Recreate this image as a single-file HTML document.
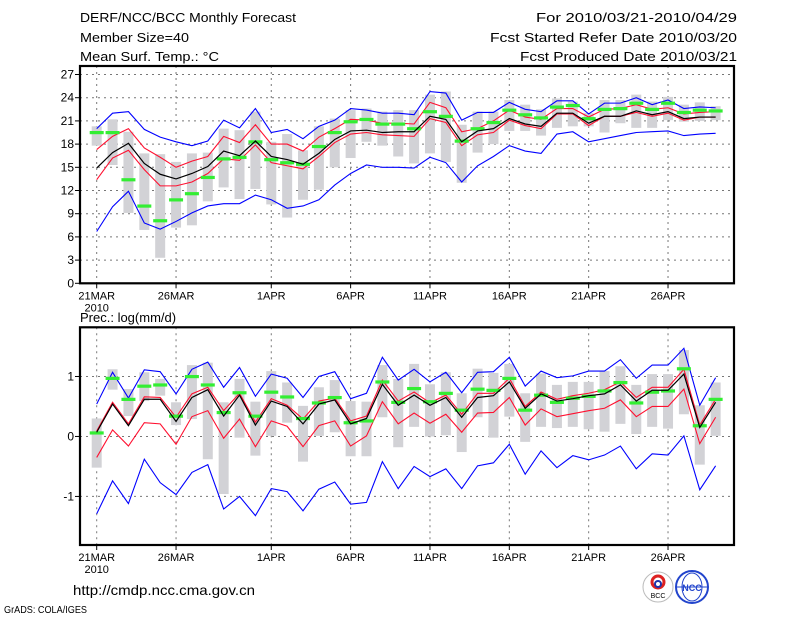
<!DOCTYPE html>
<html><head><meta charset="utf-8"><style>
body{margin:0;background:#fff;}
svg{display:block;font-family:"Liberation Sans",sans-serif;}
</style></head><body>
<svg id="c" width="800" height="618" viewBox="0 0 800 618" xmlns="http://www.w3.org/2000/svg">
<rect width="800" height="618" fill="#fff"/>
<g font-size="13" fill="#000">
<text x="80" y="22" textLength="216" lengthAdjust="spacingAndGlyphs">DERF/NCC/BCC Monthly Forecast</text>
<text x="80" y="42" textLength="109" lengthAdjust="spacingAndGlyphs">Member Size=40</text>
<text x="80" y="61" textLength="139" lengthAdjust="spacingAndGlyphs">Mean Surf. Temp.: °C</text>
<text x="536" y="22" textLength="201" lengthAdjust="spacingAndGlyphs">For 2010/03/21-2010/04/29</text>
<text x="490" y="42" textLength="247" lengthAdjust="spacingAndGlyphs">Fcst Started Refer Date 2010/03/20</text>
<text x="520" y="61" textLength="217" lengthAdjust="spacingAndGlyphs">Fcst Produced Date 2010/03/21</text>
<text x="80" y="322">Prec.: log(mm/d)</text>
<text x="73" y="595" font-size="14" textLength="182" lengthAdjust="spacingAndGlyphs">http://cmdp.ncc.cma.gov.cn</text>
<text x="4" y="613" font-size="10" textLength="83" lengthAdjust="spacingAndGlyphs">GrADS: COLA/IGES</text>
</g>
<g>
<circle cx="658" cy="587" r="15" fill="#fff" stroke="#bbb"/>
<circle cx="658" cy="582" r="6" fill="none" stroke="#d22" stroke-width="3"/>
<circle cx="658" cy="584" r="3" fill="none" stroke="#23a" stroke-width="2"/>
<text x="658" y="598" font-size="7" text-anchor="middle" fill="#000">BCC</text>
</g>
<g>
<circle cx="692" cy="587" r="16" fill="#fff" stroke="#24c" stroke-width="2"/>
<ellipse cx="692" cy="587" rx="10" ry="14" fill="none" stroke="#24c"/>
<line x1="677" y1="587" x2="707" y2="587" stroke="#24c"/>
<text x="692" y="591" font-size="9" text-anchor="middle" fill="#24c" font-weight="bold">NCC</text>
</g>
<g id="plots"></g>
</svg>
<script>
// Temperature panel data (40 days)
const tBlueHi=[20.0,22.0,22.2,19.9,18.9,18.3,17.8,18.4,21.1,20.1,22.6,19.5,19.9,18.7,20.3,21.1,22.6,22.4,22.0,22.0,21.8,24.8,24.6,21.1,22.1,22.1,23.4,22.5,22.2,23.6,23.6,21.9,23.3,23.3,24.0,23.1,23.7,22.6,22.8,22.7];
const tRedHi=[17.3,19.0,20.0,17.5,16.3,15.0,15.8,16.4,19.0,18.2,20.5,18.0,18.0,17.1,18.9,20.0,21.2,21.1,20.7,20.7,20.6,23.4,22.7,19.6,20.0,21.0,22.4,21.5,21.2,22.6,22.6,21.5,22.5,22.6,23.1,22.5,22.7,21.9,22.1,22.2];
const tMean=[14.9,16.9,18.1,15.5,14.1,13.5,14.2,15.1,17.1,16.5,18.4,16.4,16.0,15.4,16.8,18.6,19.7,19.8,19.5,19.6,19.6,21.6,21.2,18.3,19.7,20.0,21.3,20.6,20.3,22.0,22.0,20.7,21.6,21.6,22.3,21.8,22.2,21.3,21.5,21.5];
const tRedLo=[13.4,16.2,17.2,14.7,12.6,12.6,13.1,14.2,16.1,15.9,17.9,15.6,15.2,14.8,16.4,18.2,19.3,19.5,19.2,19.1,19.0,21.3,20.8,17.8,19.2,19.5,21.1,20.4,20.0,21.9,21.9,20.4,21.6,21.6,22.1,21.6,22.0,21.1,21.5,21.5];
const tBlueLo=[6.7,9.9,11.9,7.8,7.0,8.0,9.1,10.0,10.3,10.3,11.4,10.8,9.7,10.0,10.8,12.7,14.2,15.3,15.0,15.0,14.9,16.3,15.6,13.1,15.2,16.4,17.8,17.1,16.8,19.3,19.6,18.3,18.7,19.1,19.5,19.6,19.7,19.1,19.3,19.4];
const tObs=[19.5,19.5,13.4,10.0,8.1,10.8,11.6,13.7,16.1,16.3,18.3,16.0,15.6,15.4,17.7,19.5,20.9,21.2,20.6,20.6,20.0,22.2,21.6,18.4,20.0,20.8,22.4,21.8,21.4,22.8,23.0,21.3,22.5,22.6,23.3,22.5,23.3,22.1,22.4,22.3];
const tBoxHi=[20.3,21.2,19.6,16.8,16.7,15.7,16.8,16.9,20.0,19.8,22.2,18.3,19.3,17.2,20.3,21.3,22.4,22.6,22.2,22.4,22.4,24.4,24.8,20.5,22.2,22.2,23.7,23.1,22.5,23.9,23.5,22.0,23.7,23.7,24.4,23.5,24.1,23.1,23.4,22.9];
const tBoxLo=[17.8,15.3,9.1,6.9,3.3,7.2,7.5,10.6,12.4,10.9,12.2,10.2,8.5,10.8,12.1,15.0,16.2,18.3,17.8,16.4,15.5,16.8,15.7,13.0,16.9,18.0,19.7,19.7,19.1,20.1,20.3,20.3,19.5,20.7,20.1,20.1,21.1,20.9,21.0,21.1];
const tTicks=[0,3,6,9,12,15,18,21,24,27];
// Precipitation panel data
const pBlueHi=[0.54,1.07,0.64,1.11,1.08,0.71,1.12,1.24,0.82,1.15,0.67,1.04,0.97,0.65,1.0,1.08,0.63,0.72,1.32,0.94,1.12,0.91,1.07,0.73,1.07,1.08,1.32,0.84,1.09,0.98,1.01,1.09,1.09,1.28,0.97,1.19,1.19,1.47,0.52,0.98];
const pRedHi=[0.09,0.57,0.21,0.66,0.65,0.32,0.71,0.82,0.43,0.72,0.24,0.63,0.52,0.29,0.59,0.64,0.26,0.34,0.94,0.59,0.74,0.56,0.69,0.37,0.72,0.72,0.97,0.5,0.74,0.62,0.68,0.72,0.78,0.91,0.65,0.82,0.82,1.12,0.19,0.62];
const pMean=[0.07,0.54,0.18,0.62,0.62,0.25,0.65,0.78,0.34,0.69,0.19,0.59,0.5,0.21,0.54,0.61,0.21,0.3,0.87,0.52,0.69,0.52,0.65,0.32,0.65,0.68,0.91,0.47,0.71,0.59,0.63,0.68,0.71,0.86,0.59,0.77,0.77,1.04,0.15,0.57];
const pRedLo=[-0.35,0.11,-0.16,0.23,0.21,-0.13,0.33,0.43,-0.03,0.29,-0.17,0.26,0.17,-0.17,0.18,0.26,-0.16,0.01,0.58,0.21,0.39,0.22,0.37,0.07,0.39,0.4,0.65,0.19,0.46,0.33,0.38,0.43,0.47,0.61,0.33,0.5,0.5,0.79,-0.12,0.32];
const pBlueLo=[-1.29,-0.74,-1.12,-0.38,-0.77,-0.97,-0.6,-0.47,-1.21,-1.0,-1.32,-0.87,-0.92,-1.24,-0.88,-0.76,-1.13,-1.1,-0.42,-0.87,-0.5,-0.67,-0.54,-0.87,-0.49,-0.44,-0.13,-0.63,-0.24,-0.52,-0.32,-0.39,-0.31,-0.16,-0.54,-0.29,-0.31,0.01,-0.89,-0.49];
const pObs=[0.06,0.97,0.62,0.84,0.86,0.34,1.0,0.86,0.4,0.73,0.34,0.74,0.66,0.3,0.56,0.65,0.23,0.26,0.91,0.57,0.8,0.58,0.72,0.44,0.79,0.77,0.97,0.44,0.69,0.57,0.64,0.67,0.76,0.9,0.56,0.74,0.76,1.13,0.18,0.62];
const pBoxHi=[0.3,1.12,0.79,1.07,0.96,0.57,1.19,1.23,0.57,0.96,0.58,1.09,0.9,0.51,0.82,0.94,0.59,0.58,1.19,0.96,1.21,0.87,1.07,0.72,1.13,1.06,1.21,0.72,1.05,0.86,0.91,0.91,1.09,1.17,0.86,1.04,1.04,1.44,0.52,0.9];
const pBoxLo=[-0.52,0.78,0.34,0.59,0.68,0.19,0.29,-0.38,-0.96,-0.02,-0.32,0.01,0.23,-0.42,0.01,0.07,-0.33,-0.33,0.32,-0.18,0.16,0.0,0.02,-0.26,0.32,-0.02,0.33,-0.09,0.16,0.14,0.16,0.12,0.08,0.21,0.04,0.16,0.13,0.37,-0.47,0.01];
const pTicks=[-1,0,1];
const dateLabels=["21MAR","26MAR","1APR","6APR","11APR","16APR","21APR","26APR"];
const dateDays=[0,5,11,16,21,26,31,36];

const NS="http://www.w3.org/2000/svg";
const root=document.getElementById('plots');
const X0=80,X1=734;
function xs(d){return 96.7+15.87*d;}
function mk(tag,attrs,parent){const e=document.createElementNS(NS,tag);for(const k in attrs)e.setAttribute(k,attrs[k]);(parent||root).appendChild(e);return e;}

function panel(name,top,bot,vmin,vmax,ticks,series){
  const ys=v=>bot-(v-vmin)/(vmax-vmin)*(bot-top);
  const g=mk('g',{});
  
  
  ticks.forEach(t=>{
    const y=ys(t);
    if(y>top+2&&y<bot-2){const l=mk('line',{x1:X0,x2:X1,y1:y,y2:y,stroke:'#777','stroke-dasharray':'2,4','stroke-width':1},g);
      
      }
    const tl=mk('line',{x1:X0-5,x2:X0,y1:y,y2:y,stroke:'#000'},g);
    
    
    const tx=mk('text',{x:X0-6,y:y+4,'font-size':12,'text-anchor':'end'},g);
    tx.textContent=String(t);
    
    
  });
  dateDays.forEach((d,i)=>{
    const x=xs(d);
    const l=mk('line',{x1:x,x2:x,y1:top,y2:bot,stroke:'#777','stroke-dasharray':'2,4'},g);
    
    
    const tk=mk('line',{x1:x,x2:x,y1:bot,y2:bot+5,stroke:'#000'},g);
    
    
    const tx=mk('text',{x:x,y:bot+16,'font-size':11,'text-anchor':'middle'},g);
    tx.textContent=dateLabels[i];
    
    
  });
  const yr=mk('text',{x:xs(0),y:bot+28,'font-size':11,'text-anchor':'middle'},g);
  yr.textContent='2010';
  
  
  series.boxHi.forEach((h,i)=>{
    const y1=ys(h),y2=ys(series.boxLo[i]);
    const r=mk('rect',{x:xs(i)-5,y:y1,width:10,height:Math.max(1,y2-y1),fill:'#d2d2d6'},g);
    
    
  });
  const lines=[[series.blueLo,'#0000ff','lower-bound-line'],[series.blueHi,'#0000ff','upper-bound-line'],[series.redLo,'#ff1030','lower-quartile-line'],[series.redHi,'#ff1030','upper-quartile-line']];
  lines.forEach(([arr,col,nm])=>{
    const p=mk('polyline',{points:arr.map((v,i)=>xs(i)+','+ys(v)).join(' '),fill:'none',stroke:col,'stroke-width':1.1},g);
    
    
  });
  series.obs.forEach((v,i)=>{
    const r=mk('rect',{x:xs(i)-7,y:ys(v)-1.5,width:14,height:3.2,fill:'#33ee33'},g);
    
    
  });
  const m=mk('polyline',{points:series.mean.map((v,i)=>xs(i)+','+ys(v)).join(' '),fill:'none',stroke:'#000','stroke-width':1.2},g);
  
  
  const f=mk('rect',{x:X0,y:top,width:X1-X0,height:bot-top,fill:'none',stroke:'#000','stroke-width':2.2},g);
  
  
}
panel('temperature-panel',66,283.3,0,28.1,tTicks,{blueHi:tBlueHi,redHi:tRedHi,mean:tMean,redLo:tRedLo,blueLo:tBlueLo,obs:tObs,boxHi:tBoxHi,boxLo:tBoxLo});
panel('precipitation-panel',327.3,545,-1.81,1.82,pTicks,{blueHi:pBlueHi,redHi:pRedHi,mean:pMean,redLo:pRedLo,blueLo:pBlueLo,obs:pObs,boxHi:pBoxHi,boxLo:pBoxLo});
</script>
</body></html>
